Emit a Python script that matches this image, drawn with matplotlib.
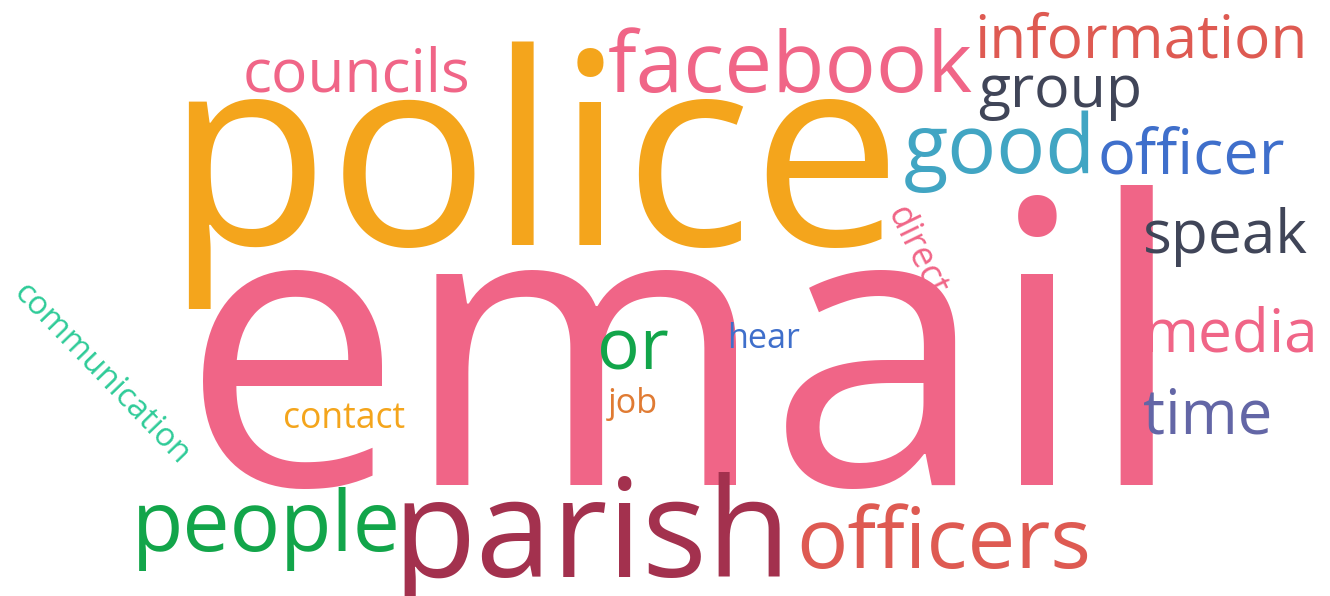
import matplotlib
matplotlib.use('Agg')
from matplotlib import pyplot as plt

plt.rcParams['font.family'] = ['Open Sans', 'DejaVu Sans']

# ---------- Words and their weights (glyph ascender height in px)
words = ['email', 'police', 'parish', 'facebook', 'people', 'officers', 'good',
         'councils', 'information', 'group', 'officer', 'speak', 'media', 'time',
         'or', 'hear', 'job', 'contact', 'direct', 'communication']
weights = [300, 203, 104, 65, 64, 65, 62,
           46, 46, 45, 48, 46, 46, 47,
           54, 26, 26, 27, 27, 25]

# ---------- Layout (pixel coords, y down)
xs = [684, 534, 592, 790, 266, 944, 1000,
      356, 1141, 1060, 1191, 1225, 1231, 1208,
      633, 764, 633, 344, 916, 101]
ys = [485, 245, 577, 92, 551, 568, 173,
      91, 57, 107, 173, 253, 352, 433,
      370, 348, 413, 428, 252, 374]
angles = [0] * 18 + [-64, -46]
colors = ['#F06587', '#F4A51C', '#A3314E', '#F06587', '#12A54A', '#DE5A52', '#41A5C3',
          '#F06587', '#DE5A52', '#404558', '#3F6FCB', '#404558', '#F06587', '#6366A6',
          '#12A54A', '#3F6FCB', '#E07B33', '#F4A51C', '#F06587', '#2ECB98']

fig = plt.figure(figsize=(13.3, 5.96), dpi=100)
ax = fig.add_axes([0, 0, 1, 1])
ax.set_xlim(0, 1330)
ax.set_ylim(596, 0)
ax.axis('off')

for w, s, x, y, a, c in zip(words, weights, xs, ys, angles, colors):
    size = s * 0.947
    if a == 0:
        ax.text(x, y, w, fontsize=size, color=c, ha='center', va='baseline')
    else:
        ax.text(x, y, w, fontsize=size, color=c, ha='center', va='center',
                rotation=a)

fig.savefig('out.png', dpi=100, facecolor='white')
